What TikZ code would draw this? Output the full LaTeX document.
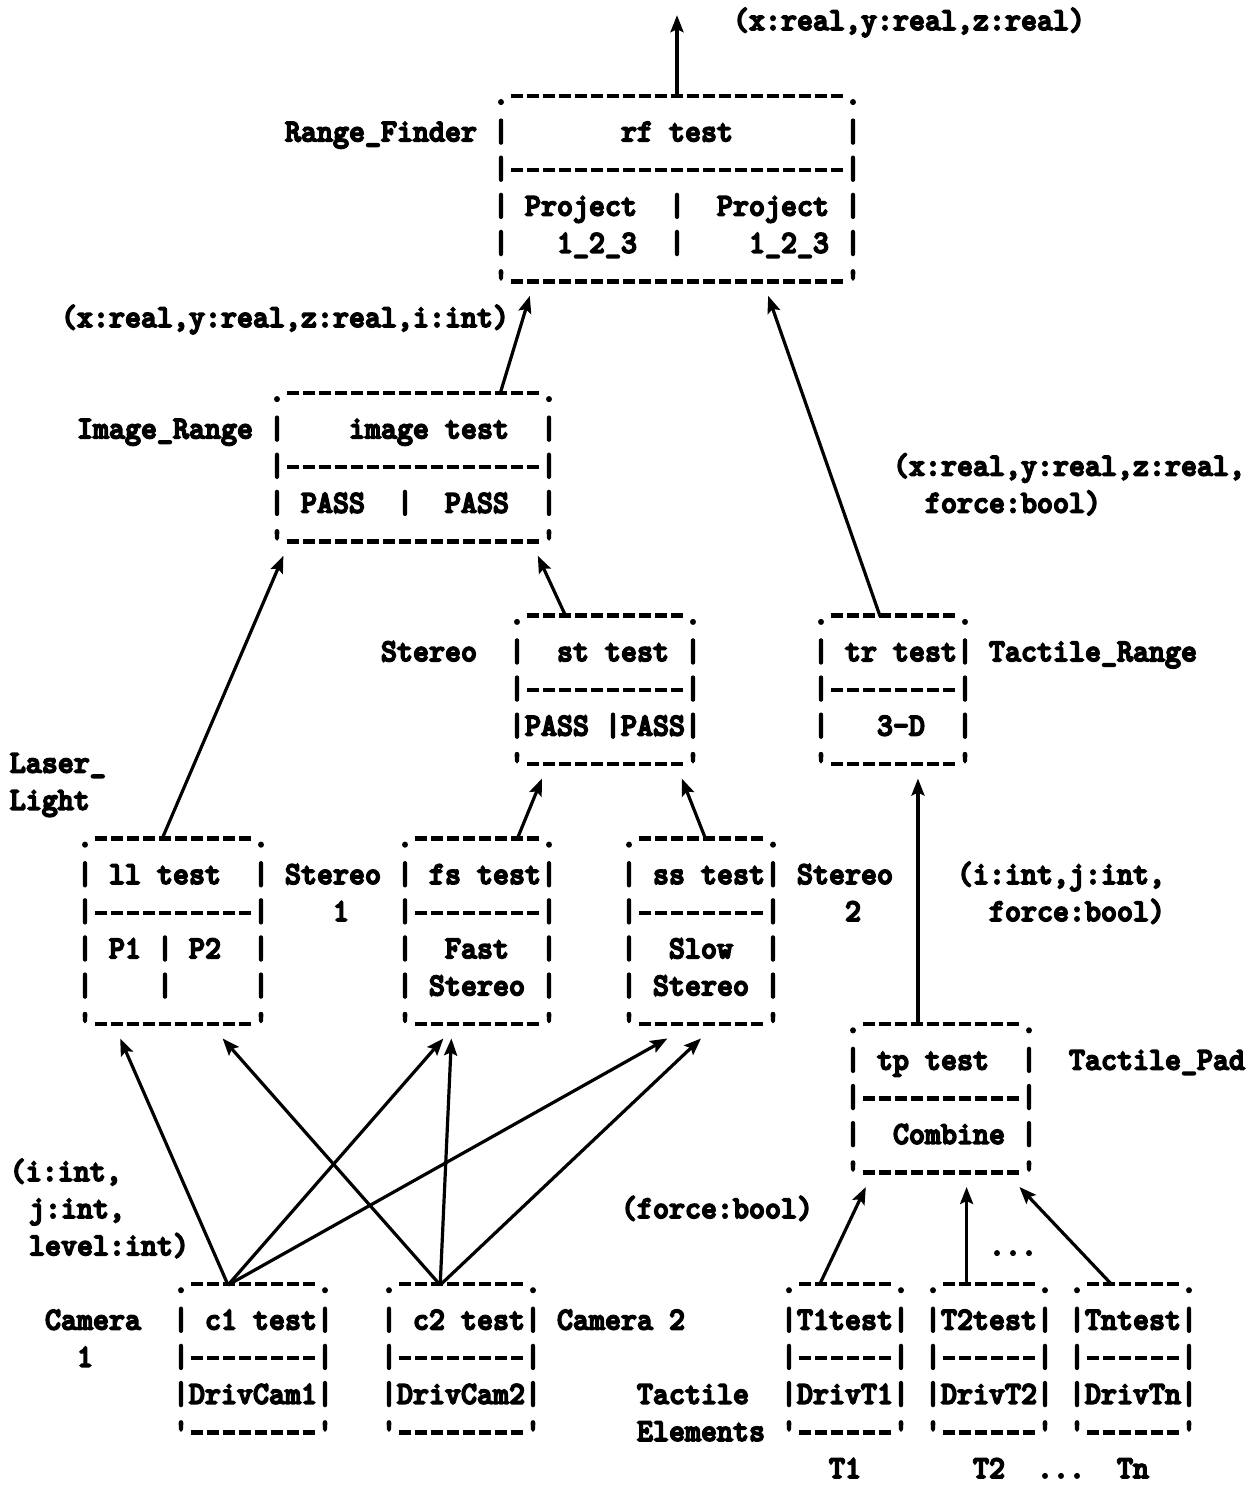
\documentclass[tikz,border=0pt]{standalone}
\usepackage{fontspec}
\setmonofont{lmmonolt10-bold.otf}[FakeStretch=0.9524, FakeBold=5]
\usetikzlibrary{arrows.meta,calc}
\newcommand\twfont{\ttfamily\fontsize{32}{37.13}\selectfont\spaceskip 16pt\relax}
\newcommand\bx[1]{\vtop{\baselineskip 37.13pt\lineskiplimit -1000pt\lineskip 0pt\relax #1}}
\newcommand\bl[1]{\hbox{#1}}
% one typed dash of a box border (one character cell wide)
\newcommand\dsh{\hbox to 16pt{\hss\vrule width 12pt height 10.6pt depth -6.2pt\hss}}
\newcommand\dd[1]{\count255=#1\relax\loop\dsh\advance\count255 -1\relax\ifnum\count255>0 \repeat}
\tikzset{
  tw/.style={font={\twfont}},
  boxn/.style={tw, anchor=base west, inner sep=0pt, outer sep=0pt},
  lab/.style={tw, anchor=base west, inner sep=0pt, outer sep=0pt},
  arr/.style={line width=3.2pt, -{Stealth[length=17pt,width=13pt,inset=3pt]}}
}
\begin{document}
\begin{tikzpicture}[x=1pt,y=-1pt]
\fill[white] (0,0) rectangle (1255,1485);
\useasboundingbox (0,0) rectangle (1255,1485);
\begin{scope}[shift={(13,30)},x=16pt,y=-37.13pt]
% ---------- boxes ----------
\node[boxn] (rf) at (30,2) {\bx{%
\bl{.\dd{21}.}%
\bl{|~~~~~~~rf~test~~~~~~~|}%
\bl{|\dd{21}|}%
\bl{|~Project~~|~~Project~|}%
\bl{|~~~1\_2\_3~~|~~~~1\_2\_3~|}%
\bl{'\dd{21}'}}};
\node[boxn] (img) at (16,10) {\bx{%
\bl{.\dd{16}.}%
\bl{|~~~~image~test~~|}%
\bl{|\dd{16}|}%
\bl{|~PASS~~|~~PASS~~|}%
\bl{'\dd{16}'}}};
\node[boxn] (st) at (31,16) {\bx{%
\bl{.\dd{10}.}%
\bl{|~~st~test~|}%
\bl{|\dd{10}|}%
\bl{|PASS~|PASS|}%
\bl{'\dd{10}'}}};
\node[boxn] (tr) at (50,16) {\bx{%
\bl{.\dd{8}.}%
\bl{|~tr~test|}%
\bl{|\dd{8}|}%
\bl{|~~~3-D~~|}%
\bl{'\dd{8}'}}};
\node[boxn] (ll) at (4,22) {\bx{%
\bl{.\dd{10}.}%
\bl{|~ll~test~~|}%
\bl{|\dd{10}|}%
\bl{|~P1~|~P2~~|}%
\bl{|~~~~|~~~~~|}%
\bl{'\dd{10}'}}};
\node[boxn] (fs) at (24,22) {\bx{%
\bl{.\dd{8}.}%
\bl{|~fs~test|}%
\bl{|\dd{8}|}%
\bl{|~~Fast~~|}%
\bl{|~Stereo~|}%
\bl{'\dd{8}'}}};
\node[boxn] (ss) at (38,22) {\bx{%
\bl{.\dd{8}.}%
\bl{|~ss~test|}%
\bl{|\dd{8}|}%
\bl{|~~Slow~~|}%
\bl{|~Stereo~|}%
\bl{'\dd{8}'}}};
\node[boxn] (tp) at (52,27) {\bx{%
\bl{.\dd{10}.}%
\bl{|~tp~test~~|}%
\bl{|\dd{10}|}%
\bl{|~~Combine~|}%
\bl{'\dd{10}'}}};
\node[boxn] (ca) at (10,34) {\bx{%
\bl{.\dd{8}.}%
\bl{|~c1~test|}%
\bl{|\dd{8}|}%
\bl{|DrivCam1|}%
\bl{'\dd{8}'}}};
\node[boxn] (cb) at (23,34) {\bx{%
\bl{.\dd{8}.}%
\bl{|~c2~test|}%
\bl{|\dd{8}|}%
\bl{|DrivCam2|}%
\bl{'\dd{8}'}}};
\node[boxn] (ta) at (48,34) {\bx{%
\bl{.\dd{6}.}%
\bl{|T1test|}%
\bl{|\dd{6}|}%
\bl{|DrivT1|}%
\bl{'\dd{6}'}}};
\node[boxn] (tb) at (57,34) {\bx{%
\bl{.\dd{6}.}%
\bl{|T2test|}%
\bl{|\dd{6}|}%
\bl{|DrivT2|}%
\bl{'\dd{6}'}}};
\node[boxn] (tn) at (66,34) {\bx{%
\bl{.\dd{6}.}%
\bl{|Tntest|}%
\bl{|\dd{6}|}%
\bl{|DrivTn|}%
\bl{'\dd{6}'}}};
% ---------- labels ----------
\node[lab] (lout) at (45,0) {(x:real,y:real,z:real)};
\node[lab] (lrf) at (17,3) {Range\_Finder};
\node[lab] (limgout) at (3,8) {(x:real,y:real,z:real,i:int)};
\node[lab] (limg) at (4,11) {Image\_Range};
\node[lab] (ltra) at (55,12) {(x:real,y:real,z:real,};
\node[lab] (ltrb) at (57,13) {force:bool)};
\node[lab] (lst) at (23,17) {Stereo};
\node[lab] (ltr) at (61,17) {Tactile\_Range};
\node[lab] (llla) at (-0.2,20) {Laser\_};
\node[lab] (lllb) at (-0.2,21) {Light};
\node[lab] (lfsa) at (17,23) {Stereo};
\node[lab] (lfsb) at (20,24) {1};
\node[lab] (lssa) at (49,23) {Stereo};
\node[lab] (lssb) at (52,24) {2};
\node[lab] (ltpa) at (59,23) {(i:int,j:int,};
\node[lab] (ltpb) at (61,24) {force:bool)};
\node[lab] (ltp) at (66,28) {Tactile\_Pad};
\node[lab] (lcama) at (-0.2,31) {(i:int,};
\node[lab] (lcamb) at (1,32) {j:int,};
\node[lab] (lcamc) at (1,33) {level:int)};
\node[lab] (lforce) at (38,32) {(force:bool)};
\node[lab] (ldots) at (61,33) {...};
\node[lab] (lc1a) at (2,35) {Camera};
\node[lab] (lc1b) at (4,36) {1};
\node[lab] (lc2) at (34,35) {Camera~2};
\node[lab] (ltea) at (39,37) {Tactile};
\node[lab] (lteb) at (39,38) {Elements};
\node[lab] (lt1) at (51,39) {T1};
\node[lab] (lt2) at (60,39) {T2};
\node[lab] (ltd) at (64,39) {...};
\node[lab] (ltn) at (69,39) {Tn};
% ---------- connectors ----------
\coordinate (outtip) at (41.5,-0.4);
\draw[arr] ($(rf.base west)+(11.5,-0.2)$) -- (outtip);
\draw[arr] ($(img.base west)+(14.44,-0.2)$) -- ($(rf.base west)+(2.3,5.16)$);
\draw[arr] ($(tr.base west)+(4.2,-0.2)$) -- ($(rf.base west)+(17.2,5.16)$);
\draw[arr] ($(st.base west)+(3.56,-0.2)$) -- ($(img.base west)+(16.8,4.16)$);
\draw[arr] ($(ll.base west)+(5.3,-0.2)$) -- ($(img.base west)+(0.9,4.16)$);
\draw[arr] ($(fs.base west)+(7.5,-0.2)$) -- ($(st.base west)+(2.06,4.16)$);
\draw[arr] ($(ss.base west)+(5.3,-0.2)$) -- ($(st.base west)+(10.8,4.16)$);
\draw[arr] ($(tp.base west)+(4.56,-0.2)$) -- ($(tr.base west)+(6.56,4.16)$);
\draw[arr] ($(ca.base west)+(3.44,-0.2)$) -- ($(ll.base west)+(2.7,5.16)$);
\draw[arr] ($(ca.base west)+(3.44,-0.2)$) -- ($(fs.base west)+(2.9,5.16)$);
\draw[arr] ($(ca.base west)+(3.44,-0.2)$) -- ($(ss.base west)+(2.9,5.16)$);
\draw[arr] ($(cb.base west)+(3.7,-0.2)$) -- ($(ll.base west)+(9.1,5.16)$);
\draw[arr] ($(cb.base west)+(3.7,-0.2)$) -- ($(fs.base west)+(3.4,5.16)$);
\draw[arr] ($(cb.base west)+(3.7,-0.2)$) -- ($(ss.base west)+(5.0,5.16)$);
\draw[arr] ($(ta.base west)+(2.4,-0.2)$) -- ($(tp.base west)+(1.3,4.16)$);
\draw[arr] ($(tb.base west)+(2.6,-0.2)$) -- ($(tp.base west)+(7.6,4.16)$);
\draw[arr] ($(tn.base west)+(2.7,-0.2)$) -- ($(tp.base west)+(10.9,4.16)$);
\end{scope}
\end{tikzpicture}
\end{document}
